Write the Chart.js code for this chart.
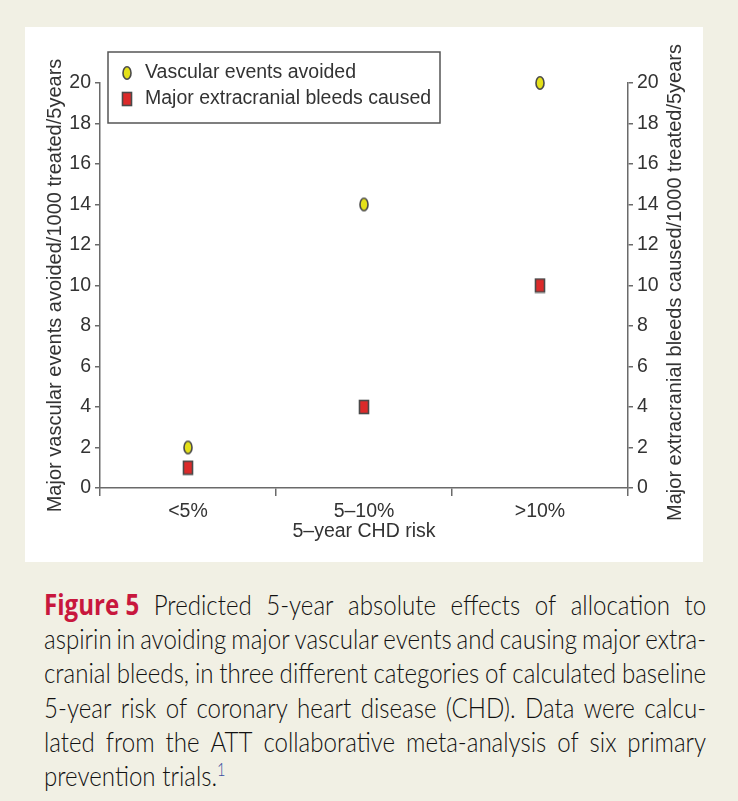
<!DOCTYPE html>
<html>
<head>
<meta charset="utf-8">
<script src="https://cdn.jsdelivr.net/npm/chart.js@4.4.0/dist/chart.umd.min.js"></script>
<style>
  body { margin: 0; background: #f1f0e4; width: 738px; height: 801px; position: relative; overflow: hidden; }
  #panel { position: absolute; left: 25px; top: 27px; width: 678px; height: 535px; background: #fff; }
  #caption { position: absolute; left: 44px; top: 587px; width: 770px; transform: scaleX(0.86); transform-origin: 0 0; font-family: 'Lato', sans-serif; font-weight: 300; font-size: 28px; line-height: 34.2px; color: #111; }
  .line { display: flex; justify-content: space-between; white-space: nowrap; }
  .fig { color: #c8173d; font-family: 'Open Sans', sans-serif; font-weight: bold; }
  sup { color: #3a4ea0; font-size: 17px; line-height: 0; }
</style>
</head>
<body>
<div id="panel"><canvas id="chart" width="678" height="535"></canvas></div>
<div id="caption"></div>
<script>
const categories = ['<5%', '5\u201310%', '>10%'];
const vascularAvoided = [2, 14, 20];
const bleedsCaused = [1, 4, 10];
const yTicks = [0, 2, 4, 6, 8, 10, 12, 14, 16, 18, 20];

const captionLines = [
  'Figure 5 Predicted 5-year absolute effects of allocation to',
  'aspirin in avoiding major vascular events and causing major extra-',
  'cranial bleeds, in three different categories of calculated baseline',
  '5-year risk of coronary heart disease (CHD). Data were calcu-',
  'lated from the ATT collaborative meta-analysis of six primary',
  'prevention trials.'
];

// caption, justified line by line
const cap = document.getElementById('caption');
captionLines.forEach((line, i) => {
  const div = document.createElement('div');
  let words = line.split(' ');
  if (i === 0) {
    words = ['<span class="fig">' + words[0] + ' ' + words[1] + '</span>'].concat(words.slice(2));
  }
  if (i < captionLines.length - 1) {
    div.className = 'line';
    div.innerHTML = words.map(w => '<span>' + w + '</span>').join('');
  } else {
    div.innerHTML = line + '<sup>1</sup>';
  }
  cap.appendChild(div);
});

function makeMarker(shape, fill) {
  const c = document.createElement('canvas');
  c.width = 12; c.height = 16;
  const g = c.getContext('2d');
  g.fillStyle = fill;
  g.strokeStyle = '#4a4a4a';
  g.lineWidth = 1.6;
  if (shape === 'ellipse') {
    g.beginPath();
    g.ellipse(6, 8, 4, 6.2, 0, 0, Math.PI * 2);
    g.fill();
    g.stroke();
  } else {
    g.fillRect(1.5, 1.5, 9, 13);
    g.strokeRect(1.5, 1.5, 9, 13);
  }
  return c;
}

const ellipseMarker = makeMarker('ellipse', '#e4e019');
const rectMarker = makeMarker('rect', '#dc2a2a');

const tickFont = { family: 'Liberation Sans', size: 19.5 };
const titleFont = { family: 'Liberation Sans', size: 20 };
const axisColor = '#6a6a6a';
const rightTitle = 'Major extracranial bleeds caused/1000 treated/5years';

const boxLegend = {
  id: 'boxLegend',
  afterDraw(chart) {
    const { ctx, chartArea } = chart;
    const x = chartArea.left + 8, y = chartArea.top - 31, w = 332, h = 71;
    ctx.save();
    ctx.strokeStyle = '#555';
    ctx.lineWidth = 1.5;
    ctx.strokeRect(x, y, w, h);
    ctx.font = '19.5px "Liberation Sans"';
    ctx.fillStyle = '#333';
    ctx.textBaseline = 'middle';
    chart.data.datasets.forEach((ds, i) => {
      const cy = y + 21 + i * 26;
      const img = ds.pointStyle;
      ctx.drawImage(img, x + 19 - img.width / 2, cy - img.height / 2);
      ctx.fillText(ds.label, x + 37, cy);
    });

    // right axis title reads bottom-to-top, like the left one
    const s = chart.scales.y1;
    ctx.translate(s.right - 28, (chartArea.top + chartArea.bottom) / 2 - 3);
    ctx.rotate(-Math.PI / 2);
    ctx.font = '20px "Liberation Sans"';
    ctx.textAlign = 'center';
    ctx.fillText(rightTitle, 0, 0);
    ctx.restore();
  }
};

new Chart(document.getElementById('chart'), {
  type: 'line',
  data: {
    labels: categories,
    datasets: [
      {
        label: 'Vascular events avoided',
        data: vascularAvoided,
        showLine: false,
        clip: false,
        pointStyle: ellipseMarker,
        pointRadius: 7,
        yAxisID: 'y'
      },
      {
        label: 'Major extracranial bleeds caused',
        data: bleedsCaused,
        showLine: false,
        clip: false,
        pointStyle: rectMarker,
        pointRadius: 7,
        yAxisID: 'y1'
      }
    ]
  },
  options: {
    responsive: false,
    animation: false,
    layout: { padding: { top: 56, left: 0, right: 0, bottom: 0 } },
    plugins: { legend: { display: false }, tooltip: { enabled: false } },
    scales: {
      x: {
        type: 'category',
        offset: true,
        grid: { offset: true, drawOnChartArea: false, tickLength: 8, color: axisColor, lineWidth: 1.5 },
        border: { color: axisColor, width: 1.5 },
        ticks: { font: tickFont, color: '#333', padding: 4 },
        title: { display: true, text: '5\u2013year CHD risk', font: tickFont, color: '#333', padding: { top: 0, bottom: 19 } },
        afterFit(scale) { scale.height = 74; }
      },
      y: {
        position: 'left',
        min: 0,
        max: 20,
        afterBuildTicks(scale) { scale.ticks = yTicks.map(v => ({ value: v })); },
        grid: { drawOnChartArea: false, tickLength: 5, color: axisColor, lineWidth: 1.5 },
        border: { color: axisColor, width: 1.5 },
        ticks: { font: tickFont, color: '#333', padding: 4 },
        title: { display: true, text: 'Major vascular events avoided/1000 treated/5years', font: titleFont, color: '#333', padding: { top: 18, bottom: 0 } },
        afterFit(scale) { scale.width = 75; }
      },
      y1: {
        position: 'right',
        min: 0,
        max: 20,
        afterBuildTicks(scale) { scale.ticks = yTicks.map(v => ({ value: v })); },
        grid: { drawOnChartArea: false, tickLength: 5, color: axisColor, lineWidth: 1.5 },
        border: { color: axisColor, width: 1.5 },
        ticks: { font: tickFont, color: '#333', padding: 4 },
        afterFit(scale) { scale.width = 75; }
      }
    }
  },
  plugins: [boxLegend]
});
</script>
</body>
</html>
